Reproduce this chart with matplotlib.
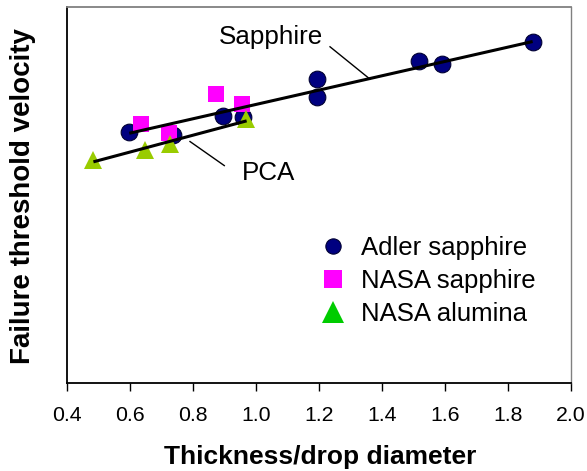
import matplotlib
matplotlib.use("Agg")
import matplotlib.pyplot as plt
from matplotlib.lines import Line2D

plt.rcParams['font.family'] = ['Liberation Sans', 'DejaVu Sans']

# Data (y in arbitrary units, axis unlabelled)
adler_x = [0.597, 0.736, 0.896, 0.958, 1.193, 1.193, 1.518, 1.592, 1.879]
adler_y = [66.8, 66.0, 71.2, 70.9, 80.9, 76.2, 85.7, 84.9, 90.9]

nasa_sap_x = [0.634, 0.724, 0.872, 0.955]
nasa_sap_y = [68.9, 66.6, 76.9, 74.2]

nasa_alu_x = [0.483, 0.647, 0.726, 0.968]
nasa_alu_y = [59.4, 62.0, 63.7, 70.3]

sapphire_fit_x = [0.597, 1.879]
sapphire_fit_y = [66.5, 90.9]
pca_fit_x = [0.483, 0.970]
pca_fit_y = [58.9, 69.8]

x_ticks = [0.4, 0.6, 0.8, 1.0, 1.2, 1.4, 1.6, 1.8, 2.0]
x_ticklabels = ["0.4", "0.6", "0.8", "1.0", "1.2", "1.4", "1.6", "1.8", "2.0"]

W, H = 587, 471
fig = plt.figure(figsize=(W / 100, H / 100), dpi=100)
L, R, B, T = 67.3, 570.7, 383.3, 7.3
ax = fig.add_axes([L / W, 1 - B / H, (R - L) / W, (B - T) / H])
ax.set_xlim(0.4, 2.0)
ax.set_ylim(0, 100)

# Markers
ax.plot(adler_x, adler_y, 'o', ms=12, mfc='#000080', mec='#000033', mew=0.8, zorder=3)
ax.plot(nasa_sap_x, nasa_sap_y, 's', ms=12, mfc='#FF00FF', mec='#FF00FF', mew=0, zorder=4)
ax.plot(nasa_alu_x, nasa_alu_y, '^', ms=13, mfc='#99CC00', mec='#99CC00', mew=0, zorder=5)

# Fit lines
ax.plot(sapphire_fit_x, sapphire_fit_y, color='black', lw=2.2, solid_capstyle='butt', zorder=6)
ax.plot(pca_fit_x, pca_fit_y, color='black', lw=2.2, solid_capstyle='butt', zorder=6)

# Annotations
ax.text(1.048, 92.1, "Sapphire", fontsize=18.7, ha='center', va='center')
ax.plot([1.235, 1.362], [89.5, 80.9], color='black', lw=1.0, zorder=6)
ax.text(1.041, 55.9, "PCA", fontsize=18.7, ha='center', va='center')
ax.plot([0.790, 0.899], [64.3, 57.9], color='black', lw=1.0, zorder=6)

# Axes styling
ax.set_xticks(x_ticks)
ax.set_xticklabels(x_ticklabels, fontsize=15.3)
ax.set_yticks([])
ax.tick_params(axis='x', direction='out', length=6, width=1.0, pad=10, color='black')
ax.spines['left'].set_color('black')
ax.spines['left'].set_linewidth(1.3)
ax.spines['bottom'].set_color('black')
ax.spines['bottom'].set_linewidth(1.3)
ax.spines['top'].set_color('#808080')
ax.spines['top'].set_linewidth(1.3)
ax.spines['right'].set_color('#808080')
ax.spines['right'].set_linewidth(1.0)

# Axis labels
fig.text(320 / W, 1 - 457 / H, "Thickness/drop diameter", fontsize=19, fontweight='bold',
         ha='center', va='center')
fig.text(23 / W, 1 - 196 / H, "Failure threshold velocity", fontsize=20, fontweight='bold',
         ha='center', va='center', rotation=90)

# Legend
handles = [
    Line2D([], [], ls='none', marker='o', ms=11, mfc='#000080', mec='#000033', mew=0.8),
    Line2D([], [], ls='none', marker='s', ms=13, mfc='#FF00FF', mec='#FF00FF', mew=0),
    Line2D([], [], ls='none', marker='^', ms=16, mfc='#00CC00', mec='#00CC00', mew=0),
]
labels = ["Adler sapphire", "NASA sapphire", "NASA alumina"]
fs = 18.5
hl = 1.0
left_px = 332.7 - hl * fs * 100 / 72 / 2
ax.legend(handles, labels, loc='upper left', frameon=False, fontsize=fs,
          handlelength=hl, handletextpad=0.62, labelspacing=0.35, borderpad=0,
          borderaxespad=0,
          bbox_to_anchor=(left_px / W, 1 - 236 / H), bbox_transform=fig.transFigure)

fig.savefig("out.png", dpi=100)
